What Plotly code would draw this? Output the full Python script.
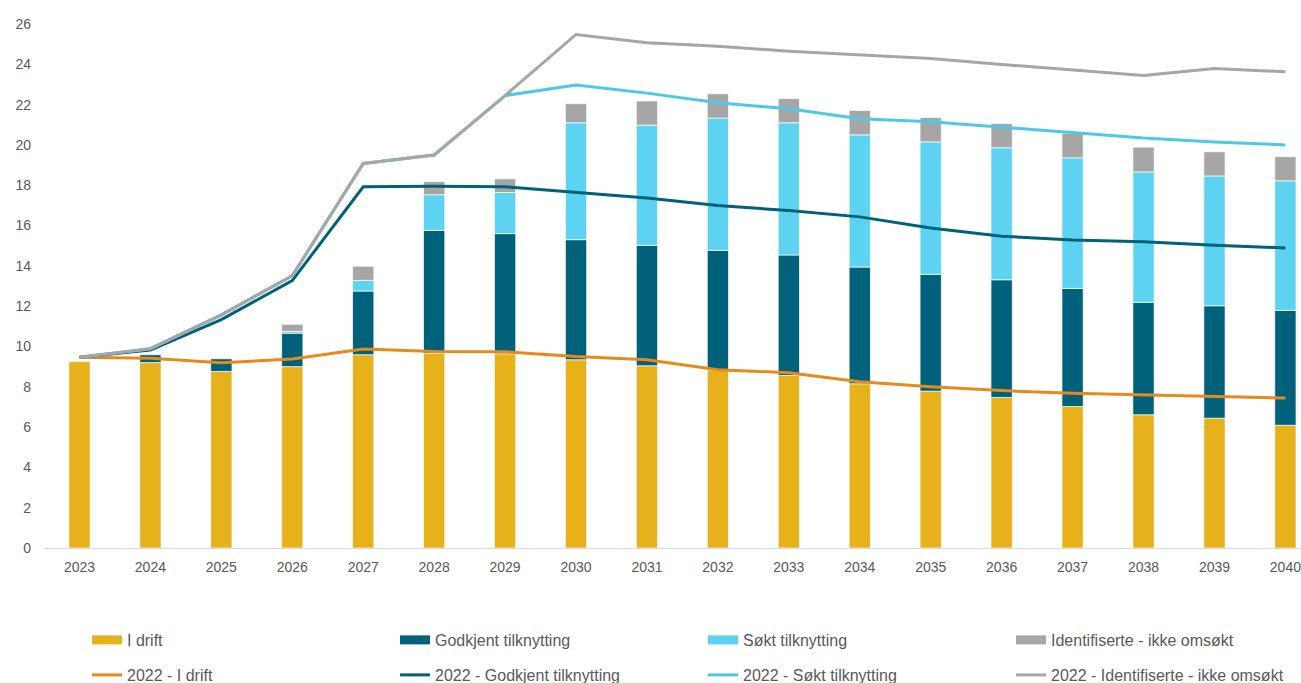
import plotly.graph_objects as go

years = list(range(2023, 2041))

# Stacked bars (GW)
i_drift = [9.25, 9.20, 8.76, 9.00, 9.59, 9.67, 9.64, 9.34, 9.04, 8.84, 8.56, 8.15, 7.78, 7.47, 7.02, 6.61, 6.44, 6.09]
godkjent = [None, 0.39, 0.63, 1.66, 3.16, 6.09, 5.96, 5.96, 5.98, 5.93, 5.98, 5.79, 5.80, 5.84, 5.86, 5.58, 5.58, 5.70]
sokt = [None, None, None, 0.09, 0.53, 1.77, 2.04, 5.80, 5.96, 6.56, 6.56, 6.56, 6.57, 6.55, 6.48, 6.47, 6.44, 6.43]
identifiserte = [None, None, None, 0.35, 0.70, 0.65, 0.68, 0.95, 1.20, 1.21, 1.20, 1.21, 1.21, 1.20, 1.21, 1.23, 1.20, 1.20]

# 2022 comparison lines (cumulative)
l2022_i_drift = [9.47, 9.42, 9.19, 9.38, 9.87, 9.75, 9.74, 9.50, 9.34, 8.84, 8.70, 8.25, 8.00, 7.81, 7.68, 7.60, 7.49, 7.44]
l2022_godkjent = [9.47, 9.82, 11.33, 13.27, 17.92, 17.95, 17.92, 17.65, 17.37, 16.99, 16.74, 16.43, 15.88, 15.47, 15.28, 15.20, 15.02, 14.89]
l2022_sokt = [9.47, 9.89, 11.57, 13.51, 19.08, 19.50, 22.45, 22.97, 22.57, 22.09, 21.79, 21.30, 21.15, 20.88, 20.62, 20.34, 20.15, 20.00]
l2022_ident = [9.47, 9.89, 11.57, 13.51, 19.08, 19.50, 22.45, 25.48, 25.07, 24.90, 24.65, 24.46, 24.29, 23.99, 23.72, 23.45, 23.79, 23.63]

bar_names = ["I drift", "Godkjent tilknytting", "Søkt tilknytting", "Identifiserte - ikke omsøkt"]
bar_colors = ["#E7B11B", "#00617A", "#5ED3F1", "#A6A6A6"]
line_names = ["2022 - I drift", "2022 - Godkjent tilknytting", "2022 - Søkt tilknytting",
              "2022 - Identifiserte - ikke omsøkt"]
line_colors = ["#E9891B", "#00617A", "#4EC8E8", "#A6A6A6"]

fig = go.Figure()

for name, vals, col in zip(bar_names, [i_drift, godkjent, sokt, identifiserte], bar_colors):
    fig.add_trace(go.Bar(
        x=years, y=vals, name=name, width=0.3,
        marker=dict(color=col, line=dict(color="rgba(255,255,255,0.7)", width=1)),
        showlegend=False,
    ))

for name, vals, col in zip(line_names, [l2022_i_drift, l2022_godkjent, l2022_sokt, l2022_ident], line_colors):
    fig.add_trace(go.Scatter(
        x=years, y=vals, name=name, mode="lines",
        line=dict(color=col, width=3), legend="legend2",
    ))

# Legend swatches for the bar series
for name, col in zip(bar_names, bar_colors):
    fig.add_trace(go.Scatter(
        x=[None], y=[None], name=name, mode="lines",
        line=dict(color=col, width=9), legend="legend",
    ))

tick_font = dict(family="Liberation Sans, Arial, sans-serif", size=14, color="#595959")
legend_font = dict(family="Liberation Sans, Arial, sans-serif", size=16, color="#595959")

fig.update_layout(
    width=1301, height=683,
    barmode="relative",
    plot_bgcolor="white", paper_bgcolor="white",
    margin=dict(l=44, r=0, t=24, b=135),
    xaxis=dict(
        range=[2022.5, 2040.22], tickmode="array", tickvals=years,
        ticktext=[str(y) for y in years], showgrid=False, zeroline=False,
        showline=True, linecolor="#D9D9D9", linewidth=1, tickfont=tick_font,
        ticks="outside", ticklen=6, tickcolor="rgba(0,0,0,0)",
        ticklabeloverflow="allow",
    ),
    yaxis=dict(
        range=[0, 26], dtick=2, showgrid=False, zeroline=False, showline=False,
        tickfont=tick_font, ticklabelstandoff=12,
    ),
    legend=dict(
        orientation="h", xref="container", yref="container",
        x=87 / 1301, y=1 - 640 / 683, xanchor="left", yanchor="middle",
        entrywidth=263, entrywidthmode="pixels", font=legend_font,
        bgcolor="rgba(0,0,0,0)", itemclick=False,
    ),
    legend2=dict(
        orientation="h", xref="container", yref="container",
        x=87 / 1301, y=1 - 675 / 683, xanchor="left", yanchor="middle",
        entrywidth=263, entrywidthmode="pixels", font=legend_font,
        bgcolor="rgba(0,0,0,0)", itemclick=False,
    ),
)

fig.write_html("out.html")
